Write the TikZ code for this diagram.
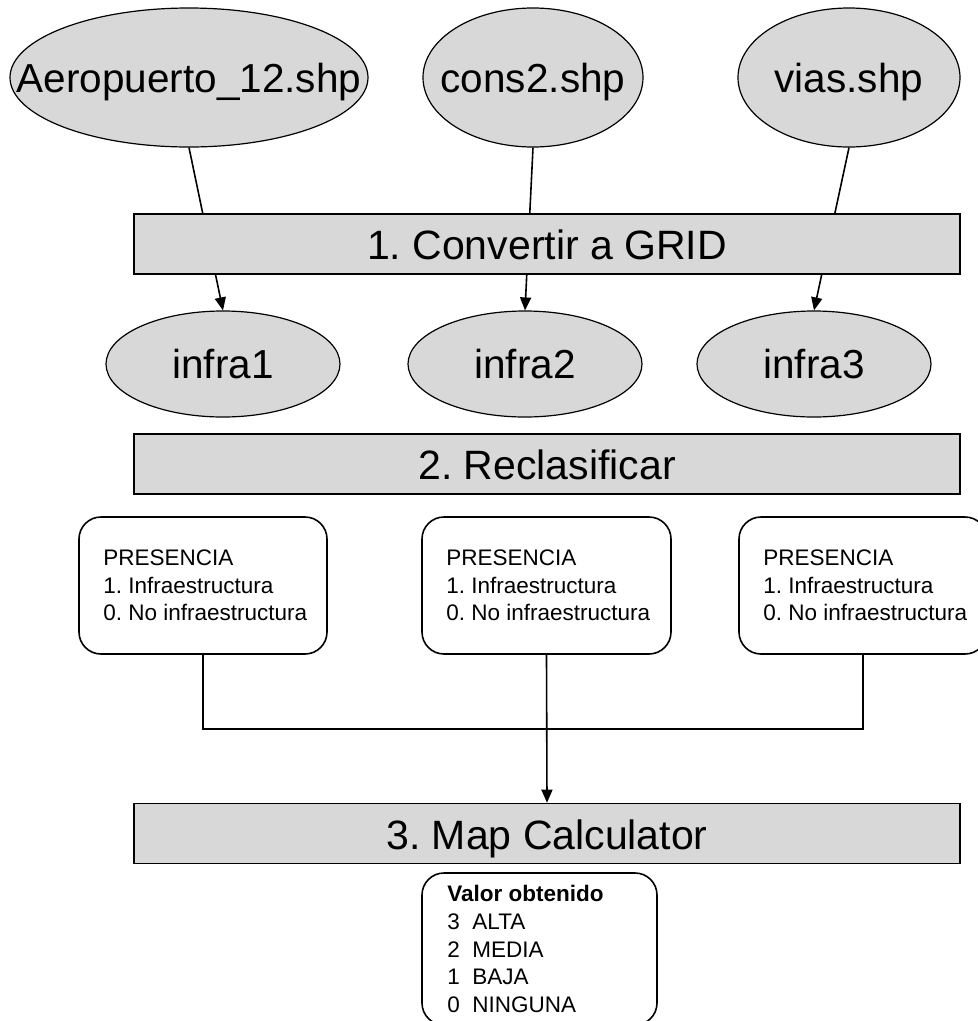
\documentclass[tikz,border=0pt]{standalone}
\usepackage{fontspec}
\setmainfont{Liberation Sans}
\usetikzlibrary{shapes.geometric,arrows.meta}
\definecolor{shade}{RGB}{216,216,216}
\frenchspacing
\begin{document}
\begin{tikzpicture}[x=1pt,y=-1pt,
  src/.style={ellipse, draw, line width=1.2pt, fill=shade, inner sep=0pt,
    text height=29pt, text depth=0pt, font=\fontsize{40.5}{48}\selectfont},
  stage/.style={rectangle, draw, line width=1.6pt, fill=shade,
    minimum width=826pt, minimum height=60pt, inner sep=0pt,
    text height=31pt, text depth=0pt, font=\fontsize{41}{49}\selectfont},
  note/.style={rectangle, rounded corners=22pt, draw, line width=1.6pt,
    fill=white, inner sep=0pt},
  notetext/.style={anchor=west, inner sep=0pt, align=left,
    font=\fontsize{22.5}{27.6}\selectfont},
  flow/.style={line width=1.6pt, -{Triangle[length=13pt,width=11pt]}},
  link/.style={line width=1.6pt}]

% source shapefiles
\node[src, minimum width=358pt, minimum height=139pt] (e1) at (189,77.5) {\makebox[0pt]{Aeropuerto\_12.shp}};
\node[src, minimum width=220pt, minimum height=139pt] (e2) at (533,77.5) {\makebox[0pt]{cons2.shp}};
\node[src, minimum width=222pt, minimum height=139pt] (e3) at (849,77.5) {\makebox[0pt]{vias.shp}};

% rasters produced by the conversion
\node[src, minimum width=234pt, minimum height=106pt] (i1) at (223,364) {\makebox[0pt]{infra1}};
\node[src, minimum width=234pt, minimum height=106pt] (i2) at (525,364) {\makebox[0pt]{infra2}};
\node[src, minimum width=234pt, minimum height=106pt] (i3) at (814,364) {\makebox[0pt]{infra3}};

% conversion arrows (the stage bar is drawn over them)
\draw[flow] (e1.south) -- (i1.north);
\draw[flow] (e2.south) -- (i2.north);
\draw[flow] (e3.south) -- (i3.north);

% processing stages
\node[stage] (s1) at (547,244) {1. Convertir a GRID};
\node[stage] (s2) at (547,464) {2. Reclasificar};
\node[stage] (s3) at (547,833.5) {3. Map Calculator};

% reclassification notes
\node[note, minimum width=248pt, minimum height=137pt] (n1) at (203,585.5) {};
\node[notetext] (t1) at ([xshift=25pt]n1.west) {PRESENCIA\\1. Infraestructura\\0. No infraestructura};
\node[note, minimum width=249pt, minimum height=137pt] (n2) at (546.5,585.5) {};
\node[notetext] (t2) at ([xshift=25pt]n2.west) {PRESENCIA\\1. Infraestructura\\0. No infraestructura};
\node[note, minimum width=248pt, minimum height=137pt] (n3) at (863,585.5) {};
\node[notetext] (t3) at ([xshift=25pt]n3.west) {PRESENCIA\\1. Infraestructura\\0. No infraestructura};

% merging connectors into the map calculator
\coordinate (join) at (546.5,729);
\draw[link] (n1.south) |- (join) -| (n3.south);
\draw[flow] (n2.south) -- (s3.north);

% result classes
\node[note, minimum width=235pt, minimum height=152pt] (r) at (539.5,949) {};
\node[notetext] (rt) at ([xshift=26pt]r.west) {\textbf{Valor obtenido}\\
  \makebox[25pt][l]{3}ALTA\\
  \makebox[25pt][l]{2}MEDIA\\
  \makebox[25pt][l]{1}BAJA\\
  \makebox[25pt][l]{0}NINGUNA};

% page frame: the last note boxes run past the right and bottom edges
\pgfresetboundingbox
\useasboundingbox (0,0) rectangle (978,1021);
\end{tikzpicture}
\end{document}
